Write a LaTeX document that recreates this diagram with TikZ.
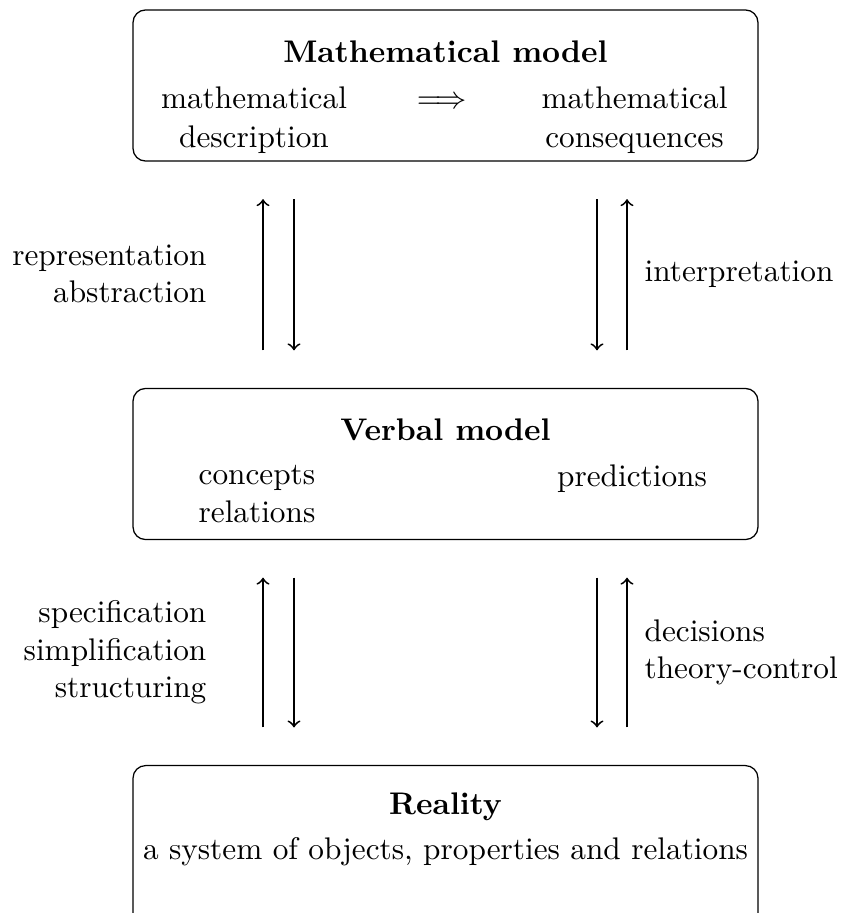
\documentclass[tikz,border=0pt]{standalone}
\begin{document}
\begin{tikzpicture}[x=0.3197pt,y=-0.3197pt,
  box/.style={draw,rounded corners=4pt,line width=0.4pt,minimum width=199.8pt,minimum height=48.3pt,inner sep=0pt},
  txt/.style={inner sep=0pt},
  ttl/.style={inner sep=0pt,font=\bfseries},
  arr/.style={->,line width=0.6pt,shorten <=12pt,shorten >=12pt},
  labl/.style={inner sep=0pt,align=right,anchor=east},
  labr/.style={inner sep=0pt,align=left,anchor=west}]
\useasboundingbox (0,0) rectangle (840,913);
% boxes
\node[box] (math) at (445.5,85.5) {};
\node[box] (verbal) at (445.5,464) {};
\node[box,minimum height=57.5pt] (reality) at (445.5,855.5) {};
% mathematical model contents
\node[ttl,anchor=base] (mtitle) at (445.5,62) {Mathematical model};
\node[txt,anchor=base] (mdescA) at (254,108) {mathematical};
\node[txt,anchor=base] (mdescB) at (254,147) {description};
\node[txt,anchor=base] (mimp) at (442,108) {$\Longrightarrow$};
\node[txt,anchor=base] (mconsA) at (634.5,108) {mathematical};
\node[txt,anchor=base] (mconsB) at (634.5,147) {consequences};
% verbal model contents
\node[ttl,anchor=base] (vtitle) at (445.5,440) {Verbal model};
\node[txt,anchor=base west] (vconc) at (198,484) {concepts};
\node[txt,anchor=base west] (vrel) at (198,522) {relations};
\node[txt,anchor=base] (vpred) at (632,486) {predictions};
% reality contents
\node[ttl,anchor=base] (rtitle) at (445.5,814) {Reality};
\node[txt,anchor=base] (rsys) at (445.5,859) {a system of objects, properties and relations};
% arrow columns
\coordinate (ca) at (263,0);
\coordinate (cb) at (294,0);
\coordinate (cc) at (597,0);
\coordinate (cd) at (627,0);
% upper arrows
\draw[arr] (verbal.north -| ca) -- (math.south -| ca);
\draw[arr] (math.south -| cb) -- (verbal.north -| cb);
\draw[arr] (math.south -| cc) -- (verbal.north -| cc);
\draw[arr] (verbal.north -| cd) -- (math.south -| cd);
% lower arrows
\draw[arr] (reality.north -| ca) -- (verbal.south -| ca);
\draw[arr] (verbal.south -| cb) -- (reality.north -| cb);
\draw[arr] (verbal.south -| cc) -- (reality.north -| cc);
\draw[arr] (reality.north -| cd) -- (verbal.south -| cd);
% labels
\node[labl] (lup) at (207,274) {representation\\abstraction};
\node[labr] (rup) at (644,274) {interpretation};
\node[labl] (llo) at (207,652.5) {specification\\simplification\\structuring};
\node[labr] (rlo) at (644,652.5) {decisions\\theory-control};
\end{tikzpicture}
\end{document}
